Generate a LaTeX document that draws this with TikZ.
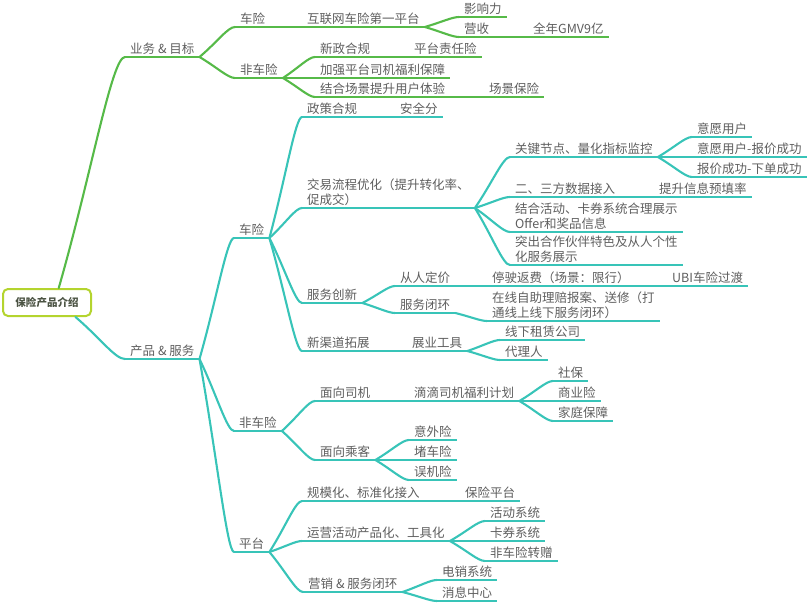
\documentclass[tikz,border=0pt]{standalone}
\usepackage{fontspec}
\usepackage{tikz}
\usetikzlibrary{calc}
\setmainfont{Noto Sans CJK SC}
\definecolor{bizgreen}{HTML}{56BA48}
\definecolor{prodteal}{HTML}{38C4B8}
\definecolor{rootlime}{HTML}{B4D42E}
\definecolor{txtgray}{HTML}{5E5E5E}
\definecolor{roottxt}{HTML}{4C5444}
\newcommand\topicfont{\fontsize{12.5}{14.5}\selectfont}

\begin{document}
\begin{tikzpicture}[x=1pt, y=-1pt,
  topic/.style={anchor=south west, inner xsep=5pt, inner ysep=2.5pt, text=txtgray, font=\topicfont, align=left,
    append after command={(\tikzlastnode.south west) edge[draw=#1, line width=2.1pt] (\tikzlastnode.south east)}},
  biz/.style={topic=bizgreen},
  prod/.style={topic=prodteal},
  rootbox/.style={draw=rootlime, line width=2pt, fill=white, rounded corners=5pt, minimum width=88pt, minimum height=27pt,
    text=roottxt, font=\fontsize{10.5}{12}\selectfont\bfseries},
  link/.style={line width=2.1pt, line cap=round,
    to path={let \p1=(\tikztostart), \p2=(\tikztotarget) in
      .. controls ({(\x1+\x2)/2},{(\y1+\y2)/2}) and ({\x2-0.2*(\x2-\x1)},\y2) .. (\tikztotarget)}}]
  \useasboundingbox (0,0) rectangle (808,604);

  \node[rootbox] (root) at (47,302.5) {保险产品介绍};

  % business & goals
  \node[biz] (biz) at (125,57) {业务 \& 目标};
  \node[biz] (bcar) at (235,27) {车险};
  \node[biz] (bnet) at (302,27) {互联网车险第一平台};
  \node[biz] (binf) at (459,17) {影响力};
  \node[biz] (brev) at (459,37) {营收};
  \node[biz] (bgmv) at (528,37) {全年GMV9亿};
  \node[biz] (bnon) at (235,78) {非车险};
  \node[biz] (bpol) at (315,57) {新政合规};
  \node[biz] (bliab) at (409,57) {平台责任险};
  \node[biz] (bwel) at (315,78) {加强平台司机福利保障};
  \node[biz] (bscn) at (315,97) {结合场景提升用户体验};
  \node[biz] (bsins) at (484,97) {场景保险};

  % products & services
  \node[prod] (prod) at (125,359) {产品 \& 服务};
  \node[prod] (pcar) at (234,238) {车险};
  \node[prod] (ppol) at (302,117) {政策合规};
  \node[prod] (psafe) at (395,117) {安全分};
  \node[prod] (ptrade) at (302,208) {交易流程优化（提升转化率、\\促成交）};
  \node[prod] (pkey) at (510,157) {关键节点、量化指标监控};
  \node[prod] (pk1) at (692,137) {意愿用户};
  \node[prod] (pk2) at (692,157) {意愿用户-报价成功};
  \node[prod] (pk3) at (692,177) {报价成功-下单成功};
  \node[prod] (pdata) at (510,197) {二、三方数据接入};
  \node[prod] (pfill) at (654,197) {提升信息预填率};
  \node[prod] (poffer) at (510,232) {结合活动、卡券系统合理展示\\Offer和奖品信息};
  \node[prod] (ppart) at (510,265) {突出合作伙伴特色及从人个性\\化服务展示};
  \node[prod] (psvc) at (302,303) {服务创新};
  \node[prod] (pprice) at (395,286) {从人定价};
  \node[prod] (pstop) at (487,286) {停驶返费（场景：限行）};
  \node[prod] (pubi) at (667,286) {UBI车险过渡};
  \node[prod] (ploop) at (395,313) {服务闭环};
  \node[prod] (ponline) at (487,321) {在线自助理赔报案、送修（打\\通线上线下服务闭环）};
  \node[prod] (pchan) at (302,351) {新渠道拓展};
  \node[prod] (ptool) at (407,351) {展业工具};
  \node[prod] (please) at (500,340) {线下租赁公司};
  \node[prod] (pagent) at (500,360) {代理人};
  \node[prod] (pnon) at (234,431) {非车险};
  \node[prod] (pdrv) at (315,401) {面向司机};
  \node[prod] (pdidi) at (409,401) {滴滴司机福利计划};
  \node[prod] (pd1) at (553,381) {社保};
  \node[prod] (pd2) at (553,401) {商业险};
  \node[prod] (pd3) at (553,421) {家庭保障};
  \node[prod] (ppas) at (315,460) {面向乘客};
  \node[prod] (pp1) at (409,440) {意外险};
  \node[prod] (pp2) at (409,460) {堵车险};
  \node[prod] (pp3) at (409,480) {误机险};
  \node[prod] (pplat) at (234,552) {平台};
  \node[prod] (pscale) at (302,501) {规模化、标准化接入};
  \node[prod] (pins) at (460,501) {保险平台};
  \node[prod] (pops) at (302,541) {运营活动产品化、工具化};
  \node[prod] (po1) at (485,521) {活动系统};
  \node[prod] (po2) at (485,541) {卡券系统};
  \node[prod] (po3) at (485,561) {非车险转赠};
  \node[prod] (pmkt) at (303,592) {营销 \& 服务闭环};
  \node[prod] (pm1) at (437,580) {电销系统};
  \node[prod] (pm2) at (437,601) {消息中心};

  % branches
  \draw[link, bizgreen] (root.51) to (biz.south west);
  \draw[link, prodteal] (root.-27) to (prod.south west);
  \foreach \a/\b in {biz/bcar, biz/bnon, bcar/bnet, bnet/binf, bnet/brev, brev/bgmv,
      bnon/bpol, bnon/bwel, bnon/bscn, bpol/bliab, bscn/bsins}
    \draw[link, bizgreen] (\a.south east) to (\b.south west);
  \foreach \a/\b in {prod/pcar, prod/pnon, prod/pplat, pcar/ppol, pcar/ptrade, pcar/psvc, pcar/pchan,
      ppol/psafe, ptrade/pkey, ptrade/pdata, ptrade/poffer, ptrade/ppart, pkey/pk1, pkey/pk2, pkey/pk3,
      pdata/pfill, psvc/pprice, psvc/ploop, pprice/pstop, pstop/pubi, ploop/ponline,
      pchan/ptool, ptool/please, ptool/pagent, pnon/pdrv, pnon/ppas, pdrv/pdidi,
      pdidi/pd1, pdidi/pd2, pdidi/pd3, ppas/pp1, ppas/pp2, ppas/pp3,
      pplat/pscale, pplat/pops, pplat/pmkt, pscale/pins, pops/po1, pops/po2, pops/po3,
      pmkt/pm1, pmkt/pm2}
    \draw[link, prodteal] (\a.south east) to (\b.south west);
\end{tikzpicture}
\end{document}
